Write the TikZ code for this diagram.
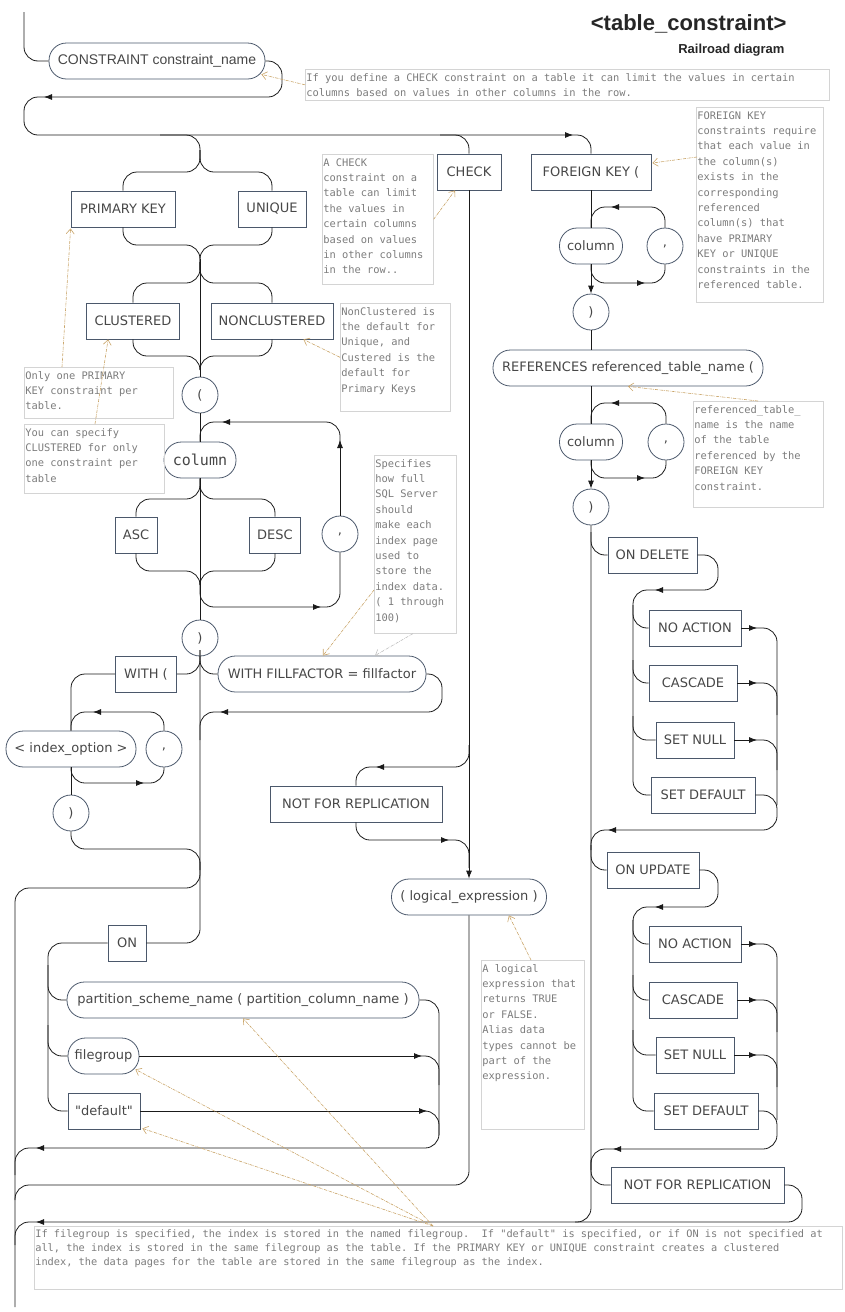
\documentclass[tikz,border=0pt]{standalone}
\usepackage{fontspec}
\usepackage{tikz}
\usetikzlibrary{positioning,calc,arrows.meta}
\newfontfamily\boxfont{DejaVu Sans}
\newfontfamily\arialfont{Liberation Sans}
\newfontfamily\notefont{DejaVu Sans Mono}
\definecolor{linec}{HTML}{1A1A1A}
\definecolor{boxc}{HTML}{4B586B}
\definecolor{labc}{HTML}{474747}
\definecolor{notec}{HTML}{D4D4D4}
\definecolor{notetxt}{HTML}{7C7C7C}
\definecolor{tanc}{HTML}{C9A468}
\tikzset{
    >={Latex[length=8pt,width=6pt]},
    rail/.style={draw=linec, line width=0.8pt, rounded corners=14pt},
    keyword/.style={
        rectangle,
        draw=boxc, line width=0.8pt,
        text=labc,
        font=\boxfont\fontsize{13}{15}\selectfont,
        minimum height=36pt,
        inner sep=0pt
    },
    ident/.style={keyword, rounded corners=17.5pt},
    symb/.style={
        circle,
        draw=boxc, line width=0.8pt,
        text=labc,
        font=\boxfont\fontsize{13}{15}\selectfont,
        minimum size=36pt,
        inner sep=0pt
    },
    note/.style={
        draw=notec, line width=0.6pt,
        text=notetxt,
        anchor=north west,
        inner sep=1pt,
        font=\notefont\fontsize{10.4}{15.4}\selectfont
    },
    notearrow/.style={draw=tanc, line width=0.6pt, densely dashdotted, -{Straight Barb[length=5pt,width=8pt]}},
    greyarrow/.style={notearrow, draw=black!25},
}
\frenchspacing
\begin{document}
\begin{tikzpicture}[x=1pt, y=-1pt]
    \useasboundingbox (0,0) rectangle (845,1312);

    % title
    \node[anchor=base east, font=\arialfont\bfseries\fontsize{22}{26}\selectfont, text=black!85] (title) at (790,30) {<table\_constraint>};
    \node[anchor=base east, font=\arialfont\bfseries\fontsize{13}{15}\selectfont, text=black!85] (subtitle) at (788,53) {Railroad diagram};

    % nodes: left part
    \node[ident, minimum width=216pt, font=\arialfont\fontsize{14}{16}\selectfont] (cons) at (157,61) {CONSTRAINT constraint\_name};
    \node[keyword, minimum width=104pt] (pk) at (123,209) {PRIMARY KEY};
    \node[keyword, minimum width=68pt] (unq) at (272,209) {UNIQUE};
    \node[keyword, minimum width=93pt] (clu) at (133,321) {CLUSTERED};
    \node[keyword, minimum width=122pt] (ncl) at (272,321) {NONCLUSTERED};
    \node[symb] (lpar) at (200,395) {(};
    \node[ident, minimum width=72pt, font=\notefont\fontsize{15}{17}\selectfont] (colA) at (200,460) {column};
    \node[symb] (commaA) at (340,534) {,};
    \node[keyword, minimum width=42pt] (asc) at (136,535) {ASC};
    \node[keyword, minimum width=51pt] (desc) at (275,535) {DESC};
    \node[symb] (rparA) at (200,638) {)};
    \node[keyword, minimum width=61pt] (with) at (146,674) {WITH (};
    \node[ident, minimum width=208pt] (ff) at (322,674) {WITH FILLFACTOR = fillfactor};
    \node[ident, minimum width=130pt] (idx) at (71,749) {< index\_option >};
    \node[symb] (commaB) at (164,749) {,};
    \node[symb] (rparB) at (71,813) {)};
    \node[keyword, minimum width=38pt] (on) at (127,943) {ON};
    \node[ident, minimum width=352pt] (part) at (243,1000) {partition\_scheme\_name ( partition\_column\_name )};
    \node[ident, minimum width=71pt] (fg) at (103.5,1056) {filegroup};
    \node[keyword, minimum width=72pt] (dflt) at (104,1111) {"default"};

    % nodes: CHECK
    \node[keyword, minimum width=64pt] (chk) at (469,172) {CHECK};
    \node[keyword, minimum width=172pt] (nfrA) at (356,804) {NOT FOR REPLICATION};
    \node[ident, minimum width=155pt] (logic) at (469,897) {( logical\_expression )};

    % nodes: FOREIGN KEY
    \node[keyword, minimum width=120pt] (fk) at (591,172) {FOREIGN KEY (};
    \node[ident, minimum width=63pt] (colB) at (591,246) {column};
    \node[symb] (commaC) at (665,246) {,};
    \node[symb] (rparC) at (591,312) {)};
    \node[ident, minimum width=270pt] (refs) at (628,368) {REFERENCES referenced\_table\_name (};
    \node[ident, minimum width=63pt] (colC) at (591,442) {column};
    \node[symb] (commaD) at (666,442) {,};
    \node[symb] (rparD) at (591,507) {)};
    \node[keyword, minimum width=89pt] (ondel) at (652.5,555) {ON DELETE};
    \node[keyword, minimum width=92pt] (naA) at (695,628) {NO ACTION};
    \node[keyword, minimum width=88pt] (casA) at (693,683) {CASCADE};
    \node[keyword, minimum width=78pt] (snA) at (695,740) {SET NULL};
    \node[keyword, minimum width=104pt] (sdA) at (703,795) {SET DEFAULT};
    \node[keyword, minimum width=92pt] (onupd) at (653,870) {ON UPDATE};
    \node[keyword, minimum width=92pt] (naB) at (695,944) {NO ACTION};
    \node[keyword, minimum width=88pt] (casB) at (693,1000) {CASCADE};
    \node[keyword, minimum width=78pt] (snB) at (695,1055) {SET NULL};
    \node[keyword, minimum width=104pt] (sdB) at (706,1111) {SET DEFAULT};
    \node[keyword, minimum width=173pt] (nfrB) at (697.5,1185) {NOT FOR REPLICATION};

    % start and CONSTRAINT loop
    \draw[rail] (24,12) |- (cons.west);
    \draw[rail,->] (cons.east) -| (282,97) -- (44,97);
    \draw[rail,->] (50,97) -| (24,135) -- (573,135);

    % PRIMARY KEY / UNIQUE
    \draw[rail] (160,135) -| (200,160);
    \draw[rail] (200,150) -- (200,172) -| (pk.north);
    \draw[rail] (200,150) -- (200,172) -| (unq.north);
    \draw[rail] (pk.south) |- (200,245) -- (200,270);
    \draw[rail] (unq.south) |- (200,245) -- (200,270);
    \draw[rail] (200,262) -- (200,283) -| (clu.north);
    \draw[rail] (200,262) -- (200,283) -| (ncl.north);
    \draw[rail] (200,259) -- (lpar.north);
    \draw[rail] (clu.south) |- (200,356) -- (200,370);
    \draw[rail] (ncl.south) |- (200,356) -- (200,370);

    % column list
    \draw[rail] (lpar.south) -- (colA.north);
    \draw[rail,->] (commaA.north) -- (340,440);
    \draw[rail,->] (340,446) |- (222,422);
    \draw[rail] (228,422) -| (colA.north);
    \draw[rail] (colA.south) -- (200,499) -| (asc.north);
    \draw[rail] (colA.south) -- (200,499) -| (desc.north);
    \draw[rail] (colA.south) -- (rparA.north);
    \draw[rail] (asc.south) |- (200,571) -- (200,585);
    \draw[rail] (desc.south) |- (200,571) -- (200,585);
    \draw[rail,->] (200,580) |- (321,607);
    \draw[rail] (315,607) -| (commaA.south);

    % WITH options
    \draw[rail] (rparA.south) |- (on.east);
    \draw[rail] (200,650) |- (with.east);
    \draw[rail] (200,650) |- (ff.west);
    \draw[rail,->] (ff.east) -| (442,712) -- (220,712);
    \draw[rail] (226,712) -| (200,740);
    \draw[rail] (with.west) -| (idx.north);
    \draw[rail,->] (commaB.north) |- (93,712);
    \draw[rail] (99,712) -| (idx.north);
    \draw[rail,->] (idx.south) |- (144,783);
    \draw[rail] (138,783) -| (commaB.south);
    \draw[rail] (idx.south) -- (rparB.north);
    \draw[rail] (rparB.south) |- (200,849) -- (200,870);

    % ON filegroup
    \draw[rail] (200,862) |- (15,888) -- (15,1307);
    \draw[rail] (on.west) -| (48,1111) -- (dflt.west);
    \draw[rail] (48,965) |- (part.west);
    \draw[rail] (48,1025) |- (fg.west);
    \draw[rail,->] (part.east) -| (439,1148) -- (36,1148);
    \draw[rail] (42,1148) -| (15,1175);
    \draw[rail,->] (fg.east) -- (422,1056);
    \draw[rail] (416,1056) -| (439,1085);
    \draw[rail,->] (dflt.east) -- (427,1111);
    \draw[rail] (421,1111) -| (439,1135);

    % CHECK
    \draw[rail] (440,135) -| (chk.north);
    \draw[rail,->] (chk.south) -- (logic.north);
    \draw[rail,->] (469,745) |- (376,767);
    \draw[rail] (382,767) -| (nfrA.north);
    \draw[rail,->] (nfrA.south) |- (449,840);
    \draw[rail] (443,840) -| (469,868);
    \draw[rail] (logic.south) |- (15,1185) -- (15,1200);

    % FOREIGN KEY
    \draw[rail] (566,135) -| (fk.north);
    \draw[rail] (fk.south) -- (colB.north);
    \draw[rail,->] (commaC.north) |- (611,207);
    \draw[rail] (617,207) -| (colB.north);
    \draw[rail,->] (colB.south) |- (645,283);
    \draw[rail] (639,283) -| (commaC.south);
    \draw[rail,->] (colB.south) -- (rparC.north);
    \draw[rail] (rparC.south) -- (rparC.south |- refs.north);
    \draw[rail] (rparC.south |- refs.south) -- (colC.north);
    \draw[rail,->] (commaD.north) |- (611,403);
    \draw[rail] (617,403) -| (colC.north);
    \draw[rail,->] (colC.south) |- (645,478);
    \draw[rail] (639,478) -| (commaD.south);
    \draw[rail,->] (colC.south) -- (rparD.north);
    \draw[rail] (rparD.south) |- (575,1222);

    % ON DELETE
    \draw[rail] (591,532) |- (ondel.west);
    \draw[rail,->] (ondel.east) -| (718,590) -- (655,590);
    \draw[rail] (661,590) -| (633,795) -- (sdA.west);
    \draw[rail] (633,605) |- (naA.west);
    \draw[rail] (633,660) |- (casA.west);
    \draw[rail] (633,716) |- (snA.west);
    \draw[rail,->] (naA.east) -- (757,628);
    \draw[rail] (751,628) -| (777,805);
    \draw[rail,->] (casA.east) -- (757,683);
    \draw[rail] (751,683) -| (777,715);
    \draw[rail,->] (snA.east) -- (757,740);
    \draw[rail] (751,740) -| (777,770);
    \draw[rail,->] (sdA.east) -| (777,830) -- (608,830);
    \draw[rail] (614,830) -| (591,850);

    % ON UPDATE
    \draw[rail] (591,845) |- (onupd.west);
    \draw[rail,->] (onupd.east) -| (718,907) -- (655,907);
    \draw[rail] (661,907) -| (633,1111) -- (sdB.west);
    \draw[rail] (633,920) |- (naB.west);
    \draw[rail] (633,975) |- (casB.west);
    \draw[rail] (633,1030) |- (snB.west);
    \draw[rail,->] (naB.east) -- (757,944);
    \draw[rail] (751,944) -| (777,1120);
    \draw[rail,->] (casB.east) -- (757,1000);
    \draw[rail] (751,1000) -| (777,1032);
    \draw[rail,->] (snB.east) -- (757,1055);
    \draw[rail] (751,1055) -| (777,1087);
    \draw[rail,->] (sdB.east) -| (777,1149) -- (613,1149);
    \draw[rail] (619,1149) -| (591,1170);
    \draw[rail] (591,1160) |- (nfrB.west);
    \draw[rail,->] (nfrB.east) -| (802,1222) -- (36,1222);
    \draw[rail] (42,1222) -| (15,1245);

    % notes
    \node[note] (nTop) at (305,69) {\parbox[t][29pt][t]{522pt}{\strut If you define a CHECK constraint on a table it can limit the values in certain\\columns based on values in other columns in the row.}};
    \node[note] (nCheck) at (322,154) {\parbox[t][128pt][t]{109pt}{\strut A CHECK\\constraint on a\\table can limit\\the values in\\certain columns\\based on values\\in other columns\\in the row..}};
    \node[note] (nFK) at (696,107) {\parbox[t][193pt][t]{125pt}{\strut FOREIGN KEY\\constraints require\\that each value in\\the column(s)\\exists in the\\corresponding\\referenced\\column(s) that\\have PRIMARY\\KEY or UNIQUE\\constraints in the\\referenced table.}};
    \node[note] (nNCL) at (340,303) {\parbox[t][106pt][t]{108pt}{\strut NonClustered is\\the default for\\Unique, and\\Custered is the\\default for\\Primary Keys}};
    \node[note] (nPK) at (24,367) {\parbox[t][49pt][t]{147pt}{\strut Only one PRIMARY\\KEY constraint per\\table.}};
    \node[note] (nCLU) at (24,424) {\parbox[t][67pt][t]{138pt}{\strut You can specify\\CLUSTERED for only\\one constraint per\\table}};
    \node[note] (nFill) at (374,455) {\parbox[t][176pt][t]{80pt}{\strut Specifies\\how full\\SQL Server\\should\\make each\\index page\\used to\\store the\\index data.\\( 1 through\\100)}};
    \node[note] (nRef) at (693,401) {\parbox[t][104pt][t]{128pt}{\strut referenced\_table\_\\name is the name\\of the table\\referenced by the\\FOREIGN KEY\\constraint.}};
    \node[note] (nLogic) at (481,960) {\parbox[t][167pt][t]{101pt}{\strut A logical\\expression that\\returns TRUE\\or FALSE.\\Alias data\\types cannot be\\part of the\\expression.}};
    \node[note, font=\notefont\fontsize{10.3}{14}\selectfont] (nFile) at (34,1226) {\parbox[t][61pt][t]{806pt}{\strut If filegroup is specified, the index is stored in the named filegroup.\ \ If "default" is specified, or if ON is not specified at\\all, the index is stored in the same filegroup as the table. If the PRIMARY KEY or UNIQUE constraint creates a clustered\\index, the data pages for the table are stored in the same filegroup as the index.}};

    % note arrows
    \draw[notearrow] (nTop.west) -- ($(cons.south east)+(-4,-5)$);
    \draw[notearrow] (nCheck.east) -- ($(chk.south)+(-14,0)$);
    \draw[notearrow] ($(nFK.north west)+(1,50)$) -- ($(fk.east)+(1,-9)$);
    \draw[notearrow] (nNCL.west) -- ($(ncl.south east)+(-30,0)$);
    \draw[notearrow] ($(nPK.north west)+(38,0)$) -- ($(pk.south west)+(0,1)$);
    \draw[notearrow] ($(nCLU.north west)+(71,0)$) -- ($(clu.south west)+(22,0)$);
    \draw[notearrow] ($(nFill.north west)+(0,135)$) -- ($(ff.north)+(1,0)$);
    \draw[greyarrow] ($(nFill.south west)+(39,0)$) -- ($(ff.north)+(53,0)$);
    \draw[notearrow] ($(nRef.north west)+(65,0)$) -- (refs.south);
    \draw[notearrow] ($(nLogic.north west)+(50,0)$) -- ($(logic.south east)+(-38,0)$);
    \draw[notearrow] ($(nFile.north west)+(399,0)$) -- ($(dflt.south east)+(2,-1)$);
    \draw[notearrow] ($(nFile.north west)+(399,0)$) -- ($(fg.south east)+(-4,-5)$);
    \draw[notearrow] ($(nFile.north west)+(399,0)$) -- (part.south);
\end{tikzpicture}
\end{document}
